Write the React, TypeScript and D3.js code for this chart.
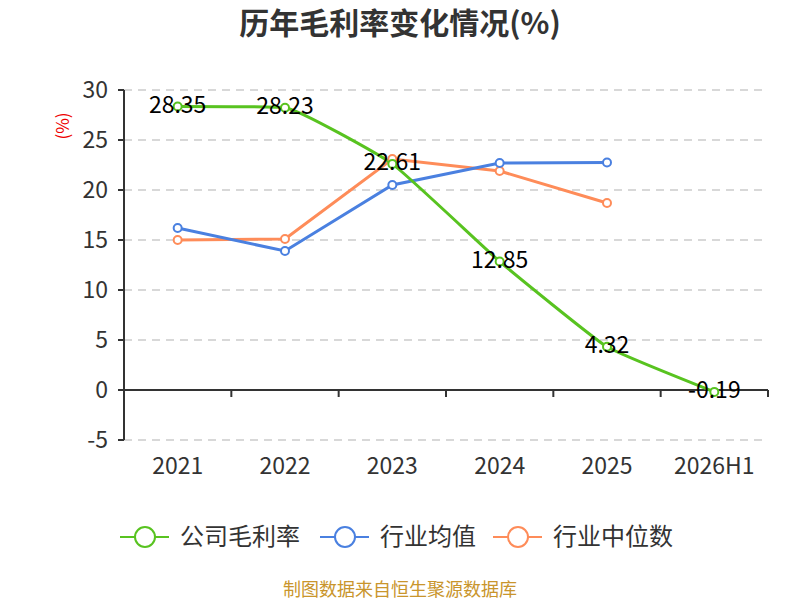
import React from 'react';
import * as d3 from 'd3';

const categories = ['2021', '2022', '2023', '2024', '2025', '2026H1'];
const companyMargin = [28.35, 28.23, 22.61, 12.85, 4.32, -0.19];
const industryMean = [16.2, 13.9, 20.5, 22.7, 22.75, null];
const industryMedian = [15.0, 15.1, 23.1, 21.9, 18.7, null];
const yTicks = [-5, 0, 5, 10, 15, 20, 25, 30];
const legendNames = ['公司毛利率', '行业均值', '行业中位数'];

const colors = ['#58c320', '#4a80e0', '#fe8c59'];
const font = '"Noto Sans CJK SC", "Noto Sans", sans-serif';

const width = 800;
const height = 600;
const left = 124;
const right = 768;
const top = 90;
const bottom = 440;

// echarts-like smoothing: control points clamped to the neighbours' box
const smoothPath = (pts: [number, number][], smooth: number) => {
  const n = pts.length;
  const cpIn: [number, number][] = [];
  const cpOut: [number, number][] = [];
  for (let i = 0; i < n; i++) {
    const [x, y] = pts[i];
    if (i === 0 || i === n - 1) {
      cpIn.push([x, y]);
      cpOut.push([x, y]);
      continue;
    }
    const [px, py] = pts[i - 1];
    const [nx, ny] = pts[i + 1];
    const vx0 = nx - px;
    const vy0 = ny - py;
    const lp = Math.hypot(x - px, y - py);
    const ln = Math.hypot(nx - x, ny - y);
    const r = ln / (ln + lp);
    let ncx = x + vx0 * smooth * r;
    let ncy = y + vy0 * smooth * r;
    ncx = Math.max(Math.min(ncx, Math.max(nx, x)), Math.min(nx, x));
    ncy = Math.max(Math.min(ncy, Math.max(ny, y)), Math.min(ny, y));
    let cx0 = x - (ncx - x) * lp / ln;
    let cy0 = y - (ncy - y) * lp / ln;
    cx0 = Math.max(Math.min(cx0, Math.max(px, x)), Math.min(px, x));
    cy0 = Math.max(Math.min(cy0, Math.max(py, y)), Math.min(py, y));
    ncx = x + (x - cx0) * ln / lp;
    ncy = y + (y - cy0) * ln / lp;
    cpIn.push([cx0, cy0]);
    cpOut.push([ncx, ncy]);
  }
  const p = d3.path();
  p.moveTo(pts[0][0], pts[0][1]);
  for (let i = 1; i < n; i++) {
    p.bezierCurveTo(cpOut[i - 1][0], cpOut[i - 1][1], cpIn[i][0], cpIn[i][1], pts[i][0], pts[i][1]);
  }
  return p.toString();
};

const App: React.FC = () => {
  const x = d3.scaleBand<string>().domain(categories).range([left, right]);
  const y = d3.scaleLinear().domain([-5, 30]).range([bottom, top]);
  const cx = (c: string) => (x(c) as number) + x.bandwidth() / 2;

  const series = [companyMargin, industryMean, industryMedian];

  const makePath = (vals: (number | null)[], smooth: boolean) => {
    if (smooth) {
      const pts = vals.map((v, i) => [cx(categories[i]), y(v as number)] as [number, number]);
      return smoothPath(pts, 0.12);
    }
    return (
      d3
        .line<number | null>()
        .defined((d) => d !== null)
        .x((_, i) => cx(categories[i]))
        .y((d) => y(d as number))(vals) || ''
    );
  };

  return (
    <svg width={width} height={height} style={{ position: 'fixed', left: 0, top: 0 }}>
      <rect width={width} height={height} fill="#fff" />
      <text x={400} y={34} textAnchor="middle" fontFamily={font} fontSize={30} fontWeight="bold" fill="#333">
        历年毛利率变化情况(%)
      </text>

      {/* grid */}
      {yTicks.map((t) =>
        t === 0 ? null : (
          <line key={t} x1={left} x2={right} y1={y(t)} y2={y(t)} stroke="#ccc" strokeWidth={1.5} strokeDasharray="8,6" />
        )
      )}

      {/* y axis */}
      <line x1={left} x2={left} y1={top} y2={bottom} stroke="#333" strokeWidth={2} />
      {yTicks.map((t) => (
        <g key={t}>
          <line x1={left - 6} x2={left} y1={y(t)} y2={y(t)} stroke="#333" strokeWidth={2} />
          <text x={left - 16} y={y(t)} dy="0.35em" textAnchor="end" fontFamily={font} fontSize={23} fill="#333">
            {t}
          </text>
        </g>
      ))}
      <text
        transform={`translate(69,${126}) rotate(-90)`}
        textAnchor="middle"
        fontFamily={font}
        fontSize={17}
        fill="#e00"
      >
        (%)
      </text>

      {/* x axis */}
      <line x1={left} x2={right} y1={y(0)} y2={y(0)} stroke="#333" strokeWidth={2} />
      {categories.map((c) => (
        <g key={c}>
          <line
            x1={(x(c) as number) + x.bandwidth()}
            x2={(x(c) as number) + x.bandwidth()}
            y1={y(0)}
            y2={y(0) + 7}
            stroke="#333"
            strokeWidth={2}
          />
          <text x={cx(c)} y={474} textAnchor="middle" fontFamily={font} fontSize={23} fill="#333">
            {c}
          </text>
        </g>
      ))}

      {/* lines */}
      {[2, 1, 0].map((si) => (
        <path key={si} d={makePath(series[si], si === 0)} fill="none" stroke={colors[si]} strokeWidth={3} />
      ))}
      {[2, 1, 0].map((si) =>
        series[si].map((v, i) =>
          v === null ? null : (
            <circle key={`${si}-${i}`} cx={cx(categories[i])} cy={y(v)} r={4} fill="#fff" stroke={colors[si]} strokeWidth={2} />
          )
        )
      )}
      {companyMargin.map((v, i) => (
        <text
          key={i}
          x={cx(categories[i])}
          y={y(v) - 2}
          dy="0.35em"
          textAnchor="middle"
          fontFamily={font}
          fontSize={23}
          fill="#000"
        >
          {v.toFixed(2)}
        </text>
      ))}

      {/* legend */}
      {legendNames.map((name, i) => {
        const lx = [120, 320, 493][i];
        return (
          <g key={name}>
            <line x1={lx} x2={lx + 49} y1={537} y2={537} stroke={colors[i]} strokeWidth={2} />
            <circle cx={lx + 25} cy={537} r={10} fill="#fff" stroke={colors[i]} strokeWidth={2} />
            <text x={lx + 60} y={537} dy="0.35em" fontFamily={font} fontSize={24} fill="#333">
              {name}
            </text>
          </g>
        );
      })}

      <text x={400} y={596} textAnchor="middle" fontFamily={font} fontSize={18} fill="#c9952c">
        制图数据来自恒生聚源数据库
      </text>
    </svg>
  );
};

export default App;
